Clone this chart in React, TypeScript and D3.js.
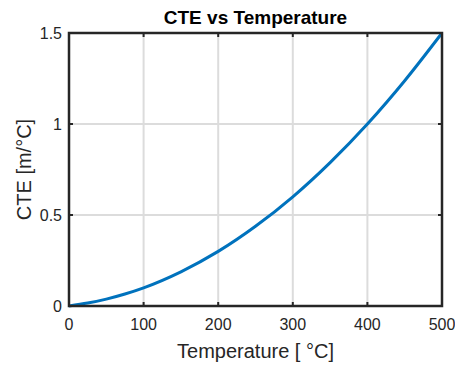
import React from "react";
import { scaleLinear, line, curveMonotoneX } from "d3";

// values
const temps = [0, 25, 50, 75, 100, 150, 200, 250, 300, 350, 400, 450, 500];
const cte = [0, 0.016, 0.038, 0.066, 0.1, 0.188, 0.3, 0.438, 0.6, 0.788, 1.0, 1.238, 1.5];
const xTicks = [0, 100, 200, 300, 400, 500];
const yTicks = [0, 0.5, 1, 1.5];

const W = 455;
const H = 365;
const m = { left: 69, right: 442, top: 33, bottom: 306 };
const ink = "#262626";
const font = "Arial, 'Liberation Sans', Helvetica, sans-serif";

const App = () => {
  const x = scaleLinear().domain([0, 500]).range([m.left, m.right]);
  const y = scaleLinear().domain([0, 1.5]).range([m.bottom, m.top]);
  const path = line<number>()
    .x((_, i) => x(temps[i]))
    .y(d => y(d))
    .curve(curveMonotoneX)(cte);

  return (
    <svg
      width={W}
      height={H}
      style={{ position: "absolute", left: 0, top: 0, background: "#fff" }}
      fontFamily={font}
    >
      <rect x={m.left} y={m.top} width={m.right - m.left} height={m.bottom - m.top} fill="#fff" />
      {/* grid */}
      {xTicks.map(t => (
        <line key={"gx" + t} x1={x(t)} x2={x(t)} y1={m.top} y2={m.bottom} stroke="#dcdcdc" strokeWidth={2} />
      ))}
      {yTicks.map(t => (
        <line key={"gy" + t} x1={m.left} x2={m.right} y1={y(t)} y2={y(t)} stroke="#dcdcdc" strokeWidth={2} />
      ))}
      <path d={path || ""} fill="none" stroke="#0072BD" strokeWidth={3} />
      {/* box */}
      <rect
        x={m.left}
        y={m.top}
        width={m.right - m.left}
        height={m.bottom - m.top}
        fill="none"
        stroke={ink}
        strokeWidth={2.5}
      />
      {/* ticks */}
      {xTicks.map(t => (
        <g key={"tx" + t}>
          <line x1={x(t)} x2={x(t)} y1={m.bottom} y2={m.bottom - 4} stroke={ink} strokeWidth={2} />
          <line x1={x(t)} x2={x(t)} y1={m.top} y2={m.top + 4} stroke={ink} strokeWidth={2} />
          <text x={x(t)} y={m.bottom + 24} textAnchor="middle" fontSize={16} fill={ink}>
            {t}
          </text>
        </g>
      ))}
      {yTicks.map(t => (
        <g key={"ty" + t}>
          <line x1={m.left} x2={m.left + 4} y1={y(t)} y2={y(t)} stroke={ink} strokeWidth={2} />
          <line x1={m.right} x2={m.right - 4} y1={y(t)} y2={y(t)} stroke={ink} strokeWidth={2} />
          <text x={m.left - 7} y={y(t) + 6} textAnchor="end" fontSize={16} fill={ink}>
            {t}
          </text>
        </g>
      ))}
      <text x={(m.left + m.right) / 2} y={24} textAnchor="middle" fontSize={19} fontWeight="bold" fill="#000">
        CTE vs Temperature
      </text>
      <text x={(m.left + m.right) / 2} y={358} textAnchor="middle" fontSize={20} fill={ink}>
        Temperature [ °C]
      </text>
      <text
        transform={`translate(31,${(m.top + m.bottom) / 2}) rotate(-90)`}
        textAnchor="middle"
        fontSize={20}
        fill={ink}
      >
        CTE [m/°C]
      </text>
    </svg>
  );
};

export default App;
